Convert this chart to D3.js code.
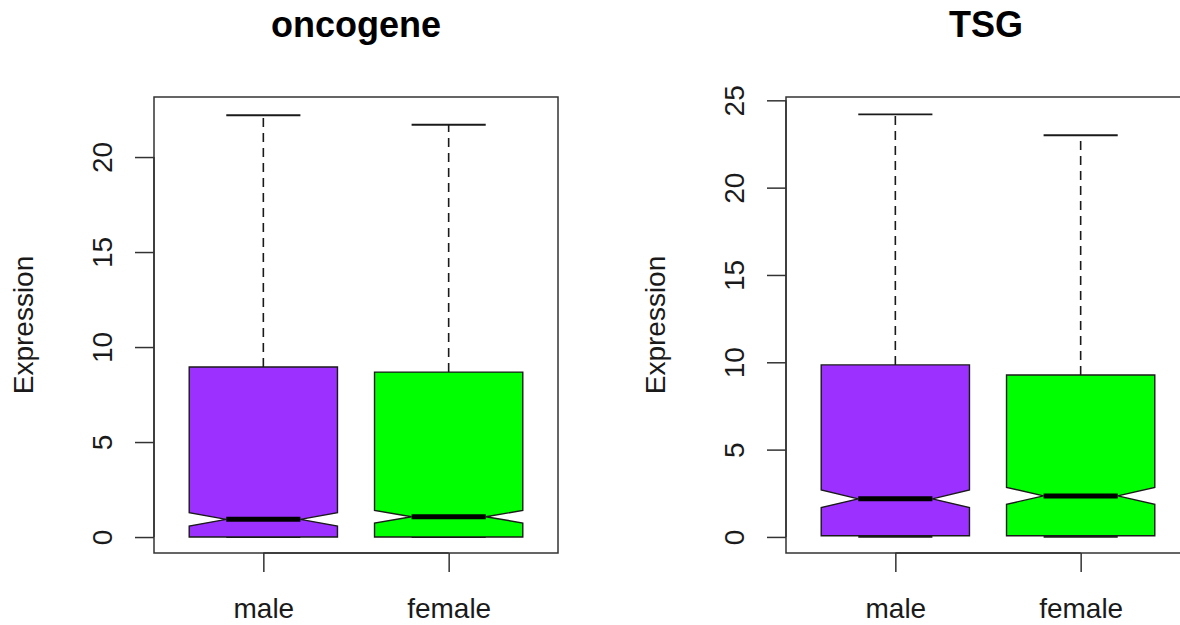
<!DOCTYPE html>
<html>
<head>
<meta charset="utf-8">
<script src="https://cdn.jsdelivr.net/npm/d3@7"></script>
<style>
  html, body { margin: 0; padding: 0; background: #fff; }
  svg { display: block; font-family: "Liberation Sans", Arial, sans-serif; }
</style>
</head>
<body>
<svg id="chart" width="1180" height="625"></svg>
<script>
// Group labels shared by both panels
const groups = ["male", "female"];
const groupColors = ["#9B30FF", "#00FF00"];

// oncogene: five-number summaries plus notch limits per group
const oncoWhiskerLow = [0, 0];
const oncoQ1 = [0, 0];
const oncoMedian = [0.93, 1.07];
const oncoQ3 = [8.95, 8.68];
const oncoWhiskerHigh = [22.2, 21.7];
const oncoNotchLow = [0.58, 0.74];
const oncoNotchHigh = [1.28, 1.40];
const oncoTicks = [0, 5, 10, 15, 20];

// TSG: five-number summaries plus notch limits per group
const tsgWhiskerLow = [0, 0];
const tsgQ1 = [0.07, 0.07];
const tsgMedian = [2.18, 2.35];
const tsgQ3 = [9.85, 9.27];
const tsgWhiskerHigh = [24.2, 23.0];
const tsgNotchLow = [1.68, 1.87];
const tsgNotchHigh = [2.69, 2.84];
const tsgTicks = [0, 5, 10, 15, 20, 25];

const svg = d3.select("#chart");

const panels = [
  {
    title: "oncogene",
    left: 154, right: 558, top: 97, bottom: 553,
    yDomain: [-0.84, 23.16],
    ticks: oncoTicks,
    wl: oncoWhiskerLow, q1: oncoQ1, med: oncoMedian, q3: oncoQ3, wh: oncoWhiskerHigh,
    nl: oncoNotchLow, nh: oncoNotchHigh,
    labelX: 33
  },
  {
    title: "TSG",
    left: 786, right: 1190, top: 97, bottom: 553,
    yDomain: [-0.92, 25.19],
    ticks: tsgTicks,
    wl: tsgWhiskerLow, q1: tsgQ1, med: tsgMedian, q3: tsgQ3, wh: tsgWhiskerHigh,
    nl: tsgNotchLow, nh: tsgNotchHigh,
    labelX: 665
  }
];

const ink = "#1a1a1a";

panels.forEach(p => {
  const x = d3.scaleLinear().domain([0.41, 2.59]).range([p.left, p.right]);
  const y = d3.scaleLinear().domain(p.yDomain).range([p.bottom, p.top]);
  const g = svg.append("g");

  const boxHalf = 0.4;      // half box width in group units
  const notchHalf = 0.2;    // half width at the notch waist
  const stapleHalf = 0.2;   // half width of whisker caps

  groups.forEach((name, i) => {
    const c = i + 1;
    const xl = x(c - boxHalf), xr = x(c + boxHalf);
    const nxl = x(c - notchHalf), nxr = x(c + notchHalf);

    // dashed whiskers
    g.append("line")
      .attr("x1", x(c)).attr("x2", x(c))
      .attr("y1", y(p.q3[i])).attr("y2", y(p.wh[i]))
      .attr("stroke", ink).attr("stroke-width", 1.6)
      .attr("stroke-dasharray", "9,6");
    g.append("line")
      .attr("x1", x(c)).attr("x2", x(c))
      .attr("y1", y(p.q1[i])).attr("y2", y(p.wl[i]))
      .attr("stroke", ink).attr("stroke-width", 1.6)
      .attr("stroke-dasharray", "9,6");

    // whisker caps
    [p.wh[i], p.wl[i]].forEach(v => {
      g.append("line")
        .attr("x1", x(c - stapleHalf)).attr("x2", x(c + stapleHalf))
        .attr("y1", y(v)).attr("y2", y(v))
        .attr("stroke", ink).attr("stroke-width", 1.8);
    });

    // notched box outline
    const pts = [
      [xl, y(p.q1[i])],
      [xl, y(p.nl[i])],
      [nxl, y(p.med[i])],
      [xl, y(p.nh[i])],
      [xl, y(p.q3[i])],
      [xr, y(p.q3[i])],
      [xr, y(p.nh[i])],
      [nxr, y(p.med[i])],
      [xr, y(p.nl[i])],
      [xr, y(p.q1[i])]
    ];
    g.append("path")
      .attr("d", d3.line()(pts) + "Z")
      .attr("fill", groupColors[i])
      .attr("stroke", ink).attr("stroke-width", 1.4)
      .attr("stroke-linejoin", "miter");

    // median bar
    g.append("line")
      .attr("x1", nxl).attr("x2", nxr)
      .attr("y1", y(p.med[i])).attr("y2", y(p.med[i]))
      .attr("stroke", "#000").attr("stroke-width", 5);
  });

  // plot frame
  g.append("rect")
    .attr("x", p.left).attr("y", p.top)
    .attr("width", p.right - p.left).attr("height", p.bottom - p.top)
    .attr("fill", "none").attr("stroke", "#333").attr("stroke-width", 1.5);

  // y axis with labels turned parallel to the axis
  const yAxis = g.append("g")
    .attr("transform", `translate(${p.left},0)`)
    .call(d3.axisLeft(y).tickValues(p.ticks).tickSize(19).tickFormat(d3.format("d")));
  yAxis.select(".domain")
    .attr("d", `M0,${y(p.ticks[0])}V${y(p.ticks[p.ticks.length - 1])}`)
    .attr("stroke", "#333").attr("stroke-width", 1.5);
  yAxis.selectAll(".tick line").attr("stroke", "#333").attr("stroke-width", 1.5);
  yAxis.selectAll(".tick text")
    .attr("x", null).attr("dy", null)
    .attr("transform", "translate(-42,0) rotate(-90)")
    .attr("text-anchor", "middle")
    .attr("font-size", 28)
    .attr("font-family", "Liberation Sans, Arial, sans-serif")
    .attr("fill", ink);

  // x axis with group names
  const xAxis = g.append("g")
    .attr("transform", `translate(0,${p.bottom})`)
    .call(d3.axisBottom(x).tickValues([1, 2]).tickSize(19)
      .tickFormat(d => groups[d - 1]));
  xAxis.select(".domain")
    .attr("d", `M${x(1)},0H${x(2)}`)
    .attr("stroke", "#333").attr("stroke-width", 1.5);
  xAxis.selectAll(".tick line").attr("stroke", "#333").attr("stroke-width", 1.5);
  xAxis.selectAll(".tick text")
    .attr("y", 65).attr("dy", null)
    .attr("font-size", 28)
    .attr("font-family", "Liberation Sans, Arial, sans-serif")
    .attr("fill", ink);

  // axis title
  svg.append("text")
    .attr("transform", `translate(${p.labelX},${(p.top + p.bottom) / 2}) rotate(-90)`)
    .attr("text-anchor", "middle")
    .attr("font-size", 28)
    .attr("fill", ink)
    .text("Expression");

  // panel title
  svg.append("text")
    .attr("x", (p.left + Math.min(p.right, 1180)) / 2 + (p.right > 1180 ? 3 : 0))
    .attr("y", 37)
    .attr("text-anchor", "middle")
    .attr("font-size", 36)
    .attr("font-weight", "bold")
    .attr("fill", "#000")
    .text(p.title);
});
</script>
</body>
</html>
